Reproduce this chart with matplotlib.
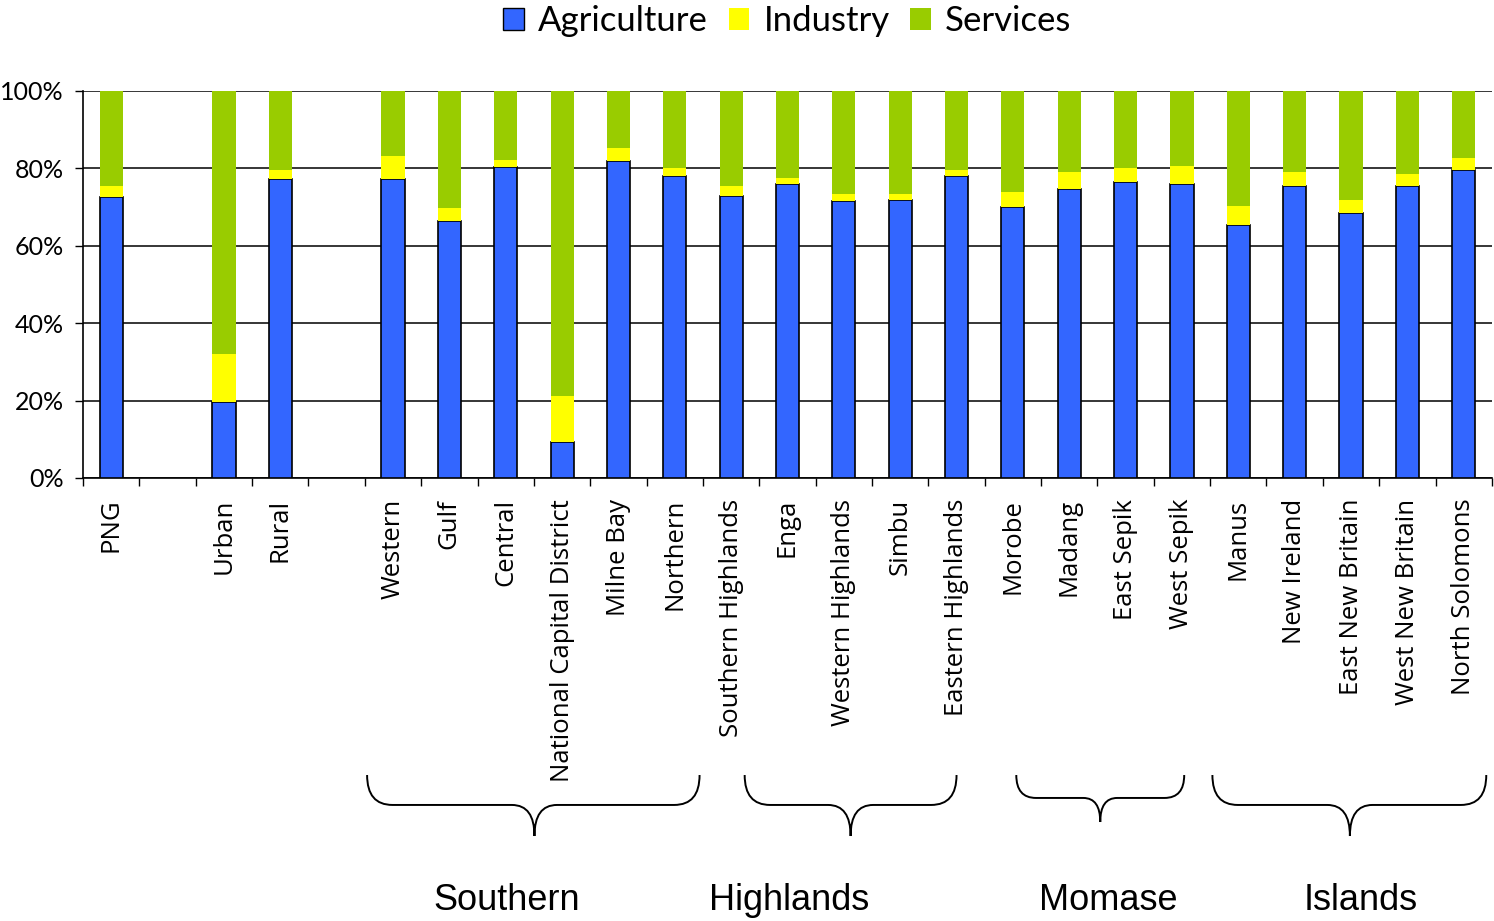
import numpy as np
import matplotlib
matplotlib.use('Agg')
import matplotlib.pyplot as plt
from matplotlib.path import Path
from matplotlib.patches import PathPatch, Patch
from matplotlib.transforms import blended_transform_factory

# slots on the x axis, "" = empty gap
categories = ['PNG', '', 'Urban', 'Rural', '',
              'Western', 'Gulf', 'Central', 'National Capital District', 'Milne Bay', 'Northern',
              'Southern Highlands', 'Enga', 'Western Highlands', 'Simbu', 'Eastern Highlands',
              'Morobe', 'Madang', 'East Sepik', 'West Sepik',
              'Manus', 'New Ireland', 'East New Britain', 'West New Britain', 'North Solomons']

# shares in % for the non-empty slots, in order
agriculture = [72.5, 19.7, 77.1,
               77.1, 66.3, 80.2, 9.4, 81.8, 78.1,
               72.9, 76.0, 71.4, 71.9, 78.1,
               69.9, 74.6, 76.5, 76.0,
               65.2, 75.5, 68.3, 75.5, 79.6]
industry = [2.9, 12.4, 2.5,
            6.1, 3.5, 2.0, 11.9, 3.5, 2.0,
            2.5, 1.5, 1.9, 1.4, 1.4,
            4.0, 4.4, 3.6, 4.6,
            5.0, 3.5, 3.5, 3.0, 3.1]
services = [100. - a - i for a, i in zip(agriculture, industry)]

# regional groups: (label, brace start, brace end, brace tip, label x, small brace)
groups = [('Southern', 4.54, 10.44, 7.51, 7.02, False),
          ('Highlands', 11.24, 15.0, 13.12, 12.03, False),
          ('Momase', 16.06, 19.04, 17.55, 17.7, True),
          ('Islands', 19.54, 24.4, 21.98, 22.18, False)]

c_agri = '#3366FF'
c_ind = '#FFFF00'
c_serv = '#99CC00'


def brace(ax, fig, x0, x1, xm, ytop, ymid, ytip, r=0.45, rt=0.4):
    verts = [(x0, ytop), (x0, ymid), (x0 + r, ymid),
             (xm - rt, ymid), (xm, ymid), (xm, ytip),
             (xm, ymid), (xm + rt, ymid),
             (x1 - r, ymid), (x1, ymid), (x1, ytop)]
    codes = [Path.MOVETO, Path.CURVE3, Path.CURVE3,
             Path.LINETO, Path.CURVE3, Path.CURVE3,
             Path.CURVE3, Path.CURVE3,
             Path.LINETO, Path.CURVE3, Path.CURVE3]
    trans = blended_transform_factory(ax.transData, fig.transFigure)
    patch = PathPatch(Path(verts, codes), facecolor='none', edgecolor='black',
                      lw=1.4, transform=trans, clip_on=False)
    fig.add_artist(patch)


fig = plt.figure(figsize=(14.94, 9.21), dpi=100)
ax = fig.add_axes([0.0556, 0.481, 0.943, 0.4205])

xpos = [i for i, c in enumerate(categories) if c]
agri = np.array(agriculture)
ind = np.array(industry)
serv = np.array(services)
w = 0.41

ax.bar(xpos, agri, width=w, color=c_agri, edgecolor='black', lw=1.2, zorder=3)
ax.bar(xpos, ind, width=w, bottom=agri, color=c_ind, edgecolor='none', zorder=3)
ax.bar(xpos, serv, width=w, bottom=agri + ind, color=c_serv, edgecolor='none', zorder=3)

ax.set_xlim(-0.5, len(categories) - 0.5)
ax.set_ylim(0, 100)
ax.set_yticks(np.arange(0, 101, 20))
ax.set_yticklabels([f'{v}%' for v in range(0, 101, 20)], fontfamily='Lato', fontsize=18)
ax.yaxis.grid(True, color='black', lw=1.1)
ax.set_axisbelow(True)

ax.set_xticks(range(len(categories)))
ax.set_xticklabels(categories, rotation=90, fontfamily='Open Sans', fontsize=18.5, va='top')
ax.set_xticks(np.arange(-0.5, len(categories)), minor=True)
ax.tick_params(axis='x', which='major', length=0, pad=15)
ax.tick_params(axis='x', which='minor', length=6, width=1, color='black')
ax.tick_params(axis='y', length=6, width=1, pad=8)

for s in ['top', 'right']:
    ax.spines[s].set_visible(False)
for s in ['left', 'bottom']:
    ax.spines[s].set_linewidth(1.2)

# braces + region names
for name, x0, x1, xm, xl, small in groups:
    if small:
        brace(ax, fig, x0, x1, xm, 0.1585, 0.1336, 0.1075, r=0.35, rt=0.3)
    else:
        brace(ax, fig, x0, x1, xm, 0.1585, 0.126, 0.0923)
    ax.text(xl, 0.022, name, transform=blended_transform_factory(ax.transData, fig.transFigure),
            ha='center', va='center', fontsize=26, fontfamily='Liberation Sans')

handles = [Patch(facecolor=c_agri, edgecolor='black', lw=1),
           Patch(facecolor=c_ind, edgecolor='none'),
           Patch(facecolor=c_serv, edgecolor='none')]
fig.legend(handles, ['Agriculture', 'Industry', 'Services'], loc='center',
           bbox_to_anchor=(0.527, 0.977), ncol=3, frameon=False,
           prop={'family': 'Lato', 'size': 25},
           handlelength=0.6, handleheight=0.6, handletextpad=0.4, columnspacing=0.6)

plt.savefig('out.png', dpi=100)
